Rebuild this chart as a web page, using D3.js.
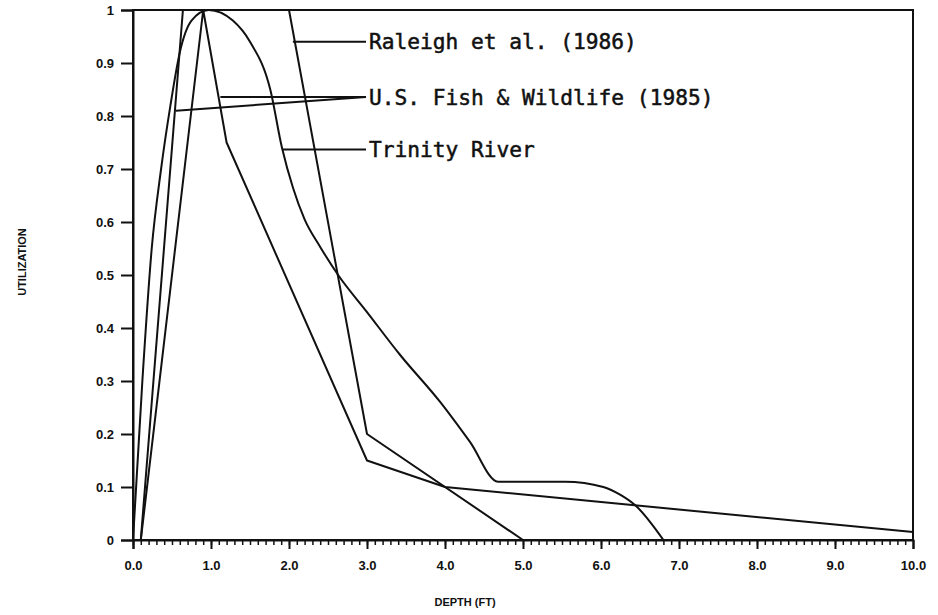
<!DOCTYPE html>
<html><head><meta charset="utf-8">
<script src="https://cdn.jsdelivr.net/npm/d3@7"></script>
<style>body{margin:0;background:#fff}svg{display:block}</style>
</head><body><svg id="c" width="938" height="615"></svg>
<script>
const xTicks = [0,1,2,3,4,5,6,7,8,9,10];
const yTicks = [0,0.1,0.2,0.3,0.4,0.5,0.6,0.7,0.8,0.9,1];
const yTickLabels = ["0","0.1","0.2","0.3","0.4","0.5","0.6","0.7","0.8","0.9","1"];
const xTickLabels = ["0.0","1.0","2.0","3.0","4.0","5.0","6.0","7.0","8.0","9.0","10.0"];
const seriesNames = ["Raleigh et al. (1986)","U.S. Fish & Wildlife (1985)","Trinity River"];
const raleighDepth = [0.1,0.64,2.0,3.0,5.0];
const raleighUtil  = [0,1,1,0.2,0];
const usfwDepth = [0.1,0.9,1.2,3.0,4.0,10.0];
const usfwUtil  = [0,1.0,0.75,0.15,0.1,0.015];
const trinityDepth = [0,0.12,0.24,0.36,0.48,0.6,0.75,0.97,1.28,1.5,1.76,1.91,2.05,2.2,2.4,2.63,3.0,3.42,3.94,4.32,4.68,5.0,5.54,6.03,6.25,6.45,6.8];
const trinityUtil  = [0,0.3,0.55,0.7,0.82,0.92,0.98,1.0,0.98,0.94,0.85,0.74,0.665,0.605,0.553,0.5,0.43,0.35,0.26,0.185,0.11,0.11,0.11,0.1,0.085,0.064,0];

const svg = d3.select("#c");
const m = {l:133, r:25, t:10, b:75};
const W = 938, H = 615;
const x = d3.scaleLinear().domain([0,10]).range([m.l, W-m.r]);
const y = d3.scaleLinear().domain([0,1]).range([H-m.b, m.t]);
const font = "Arial, 'Liberation Sans', sans-serif";

// frame
svg.append("rect").attr("x",x(0)).attr("y",y(1)).attr("width",x(10)-x(0)).attr("height",y(0)-y(1))
  .attr("fill","none").attr("stroke","#111").attr("stroke-width",2);

// y axis
const ya = svg.append("g").attr("transform",`translate(${x(0)},0)`)
  .call(d3.axisLeft(y).tickValues(yTicks).tickSize(12).tickPadding(7).tickFormat((d,i)=>yTickLabels[i]));
ya.select(".domain").attr("stroke","#111").attr("stroke-width",2);
ya.selectAll(".tick line").attr("stroke","#111").attr("stroke-width",2);
ya.selectAll("text").attr("font-family",font).attr("font-weight","bold").attr("font-size",13).attr("fill","#111");

// x axis minor
const minor = d3.range(0,100).map(i=>i/10);
svg.append("g").attr("transform",`translate(0,${y(0)})`)
  .call(d3.axisBottom(x).tickValues(minor).tickSize(5).tickFormat(""))
  .call(g=>{g.select(".domain").remove(); g.selectAll("line").attr("stroke","#111").attr("stroke-width",1.5);});
const xa = svg.append("g").attr("transform",`translate(0,${y(0)})`)
  .call(d3.axisBottom(x).tickValues(xTicks).tickSize(9).tickPadding(12).tickFormat((d,i)=>xTickLabels[i]));
xa.select(".domain").attr("stroke","#111").attr("stroke-width",2);
xa.selectAll(".tick line").attr("stroke","#111").attr("stroke-width",2);
xa.selectAll("text").attr("font-family",font).attr("font-weight","bold").attr("font-size",13).attr("fill","#111");

// axis titles
svg.append("text").attr("x",465).attr("y",606).attr("text-anchor","middle")
  .attr("font-family",font).attr("font-weight","bold").attr("font-size",11).attr("fill","#111").text("DEPTH (FT)");
svg.append("text").attr("transform","translate(26,262) rotate(-90)").attr("text-anchor","middle")
  .attr("font-family",font).attr("font-weight","bold").attr("font-size",11).attr("fill","#111").text("UTILIZATION");

// curves
const line = d3.line().x(d=>x(d[0])).y(d=>y(d[1]));
const series = [
  d3.zip(raleighDepth, raleighUtil),
  d3.zip(usfwDepth, usfwUtil),
  d3.zip(trinityDepth, trinityUtil)
];
series.forEach((s,i)=>{
  svg.append("path").attr("d", i===2 ? line.curve(d3.curveMonotoneX)(s) : line.curve(d3.curveLinear)(s))
    .attr("fill","none").attr("stroke","#111").attr("stroke-width",2).attr("stroke-linejoin","round");
});

// labels with leaders
const labelX = 369;
const mono = "'DejaVu Sans Mono','Liberation Mono',monospace";
const labels = [
  {t:seriesNames[0], ly:0.94, pts:[[2.05,0.94]]},
  {t:seriesNames[1], ly:0.836, pts:[[1.12,0.836],[0.55,0.81]]},
  {t:seriesNames[2], ly:0.737, pts:[[1.91,0.737]]}
];
labels.forEach(L=>{
  L.pts.forEach(p=>{
    svg.append("line").attr("x1",x(p[0])).attr("y1",y(p[1])).attr("x2",labelX-3).attr("y2",y(L.ly))
      .attr("stroke","#111").attr("stroke-width",2);
  });
  svg.append("text").attr("x",labelX).attr("y",y(L.ly)).attr("dy","0.36em")
    .attr("font-family",mono).attr("font-size",21.2).attr("fill","#111")
    .attr("stroke","#111").attr("stroke-width",0.5).text(L.t);
});
</script></body></html>
